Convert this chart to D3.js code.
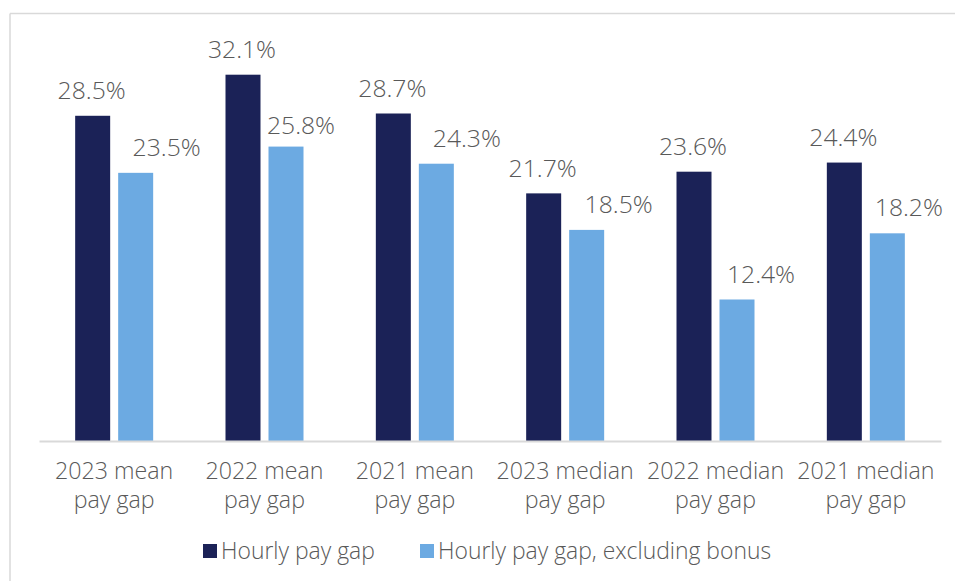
<!DOCTYPE html>
<html>
<head>
<meta charset="utf-8">
<script src="https://cdn.jsdelivr.net/npm/d3@7"></script>
<style>
  html, body { margin: 0; padding: 0; background: #fff; }
  svg { display: block; }
  text { font-family: "Open Sans", "Noto Sans", sans-serif; font-weight: 300; fill: #595959; }
</style>
</head>
<body>
<svg id="chart" width="955" height="581"></svg>
<script>
const categories = [
  ["2023 mean", "pay gap"],
  ["2022 mean", "pay gap"],
  ["2021 mean", "pay gap"],
  ["2023 median", "pay gap"],
  ["2022 median", "pay gap"],
  ["2021 median", "pay gap"]
];
const seriesNames = ["Hourly pay gap", "Hourly pay gap, excluding bonus"];
const hourly = [28.5, 32.1, 28.7, 21.7, 23.6, 24.4];
const excludingBonus = [23.5, 25.8, 24.3, 18.5, 12.4, 18.2];
const colors = ["#1b2257", "#6caae2"];

// layout: manual nudges of the data labels (as placed in the original)
const labelNudgeX = [[-1, 31], [-1, 15], [-1, 30.5], [-1, 32], [-1, 24], [-1, 21.5]];
const labelNudgeY = [[0, 0], [0, 4], [0, 0], [0, 0], [0, 0.5], [0, -0.5]];

const svg = d3.select("#chart");
const W = 955, H = 581;

// outer frame (top and left edges visible)
svg.append("line").attr("x1", 10).attr("x2", W).attr("y1", 13.5).attr("y2", 13.5)
  .attr("stroke", "#d9d9d9").attr("stroke-width", 1.5);
svg.append("line").attr("x1", 10).attr("x2", 10).attr("y1", 13.5).attr("y2", H)
  .attr("stroke", "#d9d9d9").attr("stroke-width", 1.5);

const plot = { left: 39, right: 941, baseline: 441 };
const catKeys = categories.map((c, i) => i);
const x0 = d3.scaleBand().domain(catKeys).range([plot.left, plot.right]).paddingInner(0).paddingOuter(0);
const x1 = d3.scaleBand().domain([0, 1]).range([0, 78]).paddingInner(8 / 43);
const y = d3.scaleLinear().domain([0, 32.1]).range([plot.baseline, 74.7]);

const data = catKeys.map(i => [hourly[i], excludingBonus[i]]);

const groups = svg.append("g").selectAll("g").data(data).join("g")
  .attr("transform", (d, i) => `translate(${x0(i) + x0.bandwidth() / 2 - 39},0)`);

groups.selectAll("rect").data(d => d.map((v, s) => ({ v, s }))).join("rect")
  .attr("x", d => x1(d.s))
  .attr("width", x1.bandwidth())
  .attr("y", d => y(d.v))
  .attr("height", d => plot.baseline - y(d.v))
  .attr("fill", d => colors[d.s]);

groups.selectAll("text.val").data((d, i) => d.map((v, s) => ({ v, s, i }))).join("text")
  .attr("class", "val")
  .attr("x", d => x1(d.s) + x1.bandwidth() / 2 + labelNudgeX[d.i][d.s])
  .attr("y", d => y(d.v) - 16.7 + labelNudgeY[d.i][d.s])
  .attr("text-anchor", "middle")
  .style("font-size", "24.7px")
  .text(d => d.v.toFixed(1) + "%");

// axis line
const xAxis = d3.axisBottom(x0).tickSize(0).tickFormat("");
const ax = svg.append("g").attr("transform", `translate(0,${plot.baseline})`).call(xAxis);
ax.select(".domain").attr("stroke", "#d9d9d9").attr("stroke-width", 2);

// category labels
const lab = svg.append("g").selectAll("text").data(categories).join("text")
  .attr("x", (d, i) => x0(i) + x0.bandwidth() / 2)
  .attr("y", 479)
  .attr("text-anchor", "middle")
  .style("font-size", "23.2px");
lab.each(function(d) {
  const t = d3.select(this);
  d.forEach((line, k) => {
    t.append("tspan").attr("x", t.attr("x")).attr("dy", k === 0 ? 0 : 29).text(line);
  });
});

// legend
const legendItems = [
  { name: seriesNames[0], color: colors[0], x: 203 },
  { name: seriesNames[1], color: colors[1], x: 420 }
];
const lg = svg.append("g").selectAll("g").data(legendItems).join("g")
  .attr("transform", d => `translate(${d.x},0)`);
lg.append("rect").attr("x", 0).attr("y", 544).attr("width", 14).attr("height", 14)
  .attr("fill", d => d.color);
lg.append("text").attr("x", 18).attr("y", 559).style("font-size", "22.9px").text(d => d.name);
</script>
</body>
</html>
